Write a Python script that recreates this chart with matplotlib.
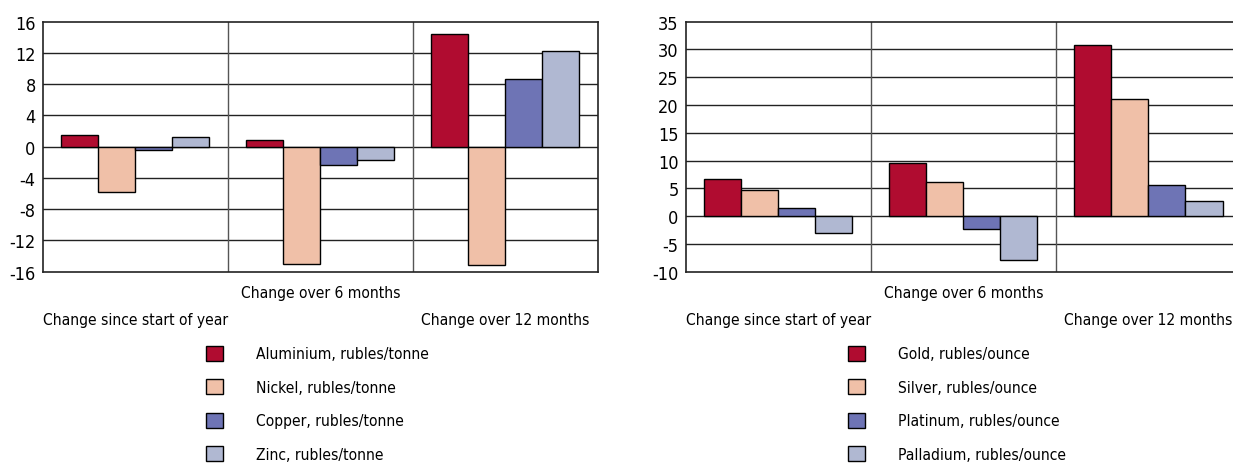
import matplotlib
matplotlib.use("Agg")
import matplotlib.pyplot as plt
from matplotlib.patches import Patch
import numpy as np

plt.rcParams["font.family"] = ["DejaVu Sans"]
plt.rcParams["font.stretch"] = "condensed"

categories = ["Change since start of year", "Change over 6 months", "Change over 12 months"]
colors = ["#B00C30", "#F0C0A8", "#6E74B5", "#B0B8D2"]

metal_names = ["Aluminium, rubles/tonne", "Nickel, rubles/tonne",
               "Copper, rubles/tonne", "Zinc, rubles/tonne"]
aluminium = [1.45, 0.8, 14.4]
nickel = [-5.8, -15.0, -15.1]
copper = [-0.4, -2.4, 8.7]
zinc = [1.2, -1.75, 12.2]

precious_names = ["Gold, rubles/ounce", "Silver, rubles/ounce",
                  "Platinum, rubles/ounce", "Palladium, rubles/ounce"]
gold = [6.6, 9.6, 30.8]
silver = [4.7, 6.1, 21.0]
platinum = [1.4, -2.3, 5.6]
palladium = [-3.05, -7.9, 2.7]

left_ticks = np.arange(-16, 17, 4)
right_ticks = np.arange(-10, 36, 5)

fig = plt.figure(figsize=(12.33, 4.64), dpi=100)
ax1 = fig.add_axes([0.0346, 0.4123, 0.4504, 0.5388])
ax2 = fig.add_axes([0.5561, 0.4123, 0.4504, 0.5388])

FS = 11.2


def draw_panel(ax, series, names, ticks, legend_x):
    x = np.arange(len(categories))
    width = 0.2
    offsets = [-0.3, -0.1, 0.1, 0.3]
    for vals, off, c in zip(series, offsets, colors):
        ax.bar(x + off, vals, width, color=c, edgecolor="black", linewidth=1, zorder=3)
    ax.set_xlim(-0.5, len(categories) - 0.5)
    ax.set_ylim(ticks[0], ticks[-1])
    ax.set_yticks(ticks)
    ax.set_yticklabels([str(t) for t in ticks], fontsize=13)
    ax.tick_params(axis="y", length=0, pad=5)
    ax.set_xticks([])
    for t in ticks[1:-1]:
        ax.axhline(t, color="#222222", lw=1, zorder=1)
    for s in [0.5, 1.5]:
        ax.axvline(s, color="#555555", lw=1, zorder=1)
    for sp in ax.spines.values():
        sp.set_color("#222222")
        sp.set_linewidth(1.2)
    tr = ax.get_xaxis_transform()
    ys = [-0.193, -0.085, -0.193]
    for xi, (lab, yy) in enumerate(zip(categories, ys)):
        ax.text(xi, yy, lab, transform=tr, ha="center", va="center", fontsize=FS)
    handles = [Patch(facecolor=c, edgecolor="black", linewidth=1) for c in colors]
    ax.legend(handles, names, loc="upper left", bbox_to_anchor=(legend_x, 0.253),
              bbox_transform=fig.transFigure, frameon=False, fontsize=FS,
              handlelength=1.1, handleheight=1.1, handletextpad=2.1,
              labelspacing=1.14, borderpad=0, borderaxespad=0)


draw_panel(ax1, [aluminium, nickel, copper, zinc], metal_names, left_ticks, 206 / 1233)
draw_panel(ax2, [gold, silver, platinum, palladium], precious_names, right_ticks, 848 / 1233)

fig.savefig("out.png", dpi=100)
